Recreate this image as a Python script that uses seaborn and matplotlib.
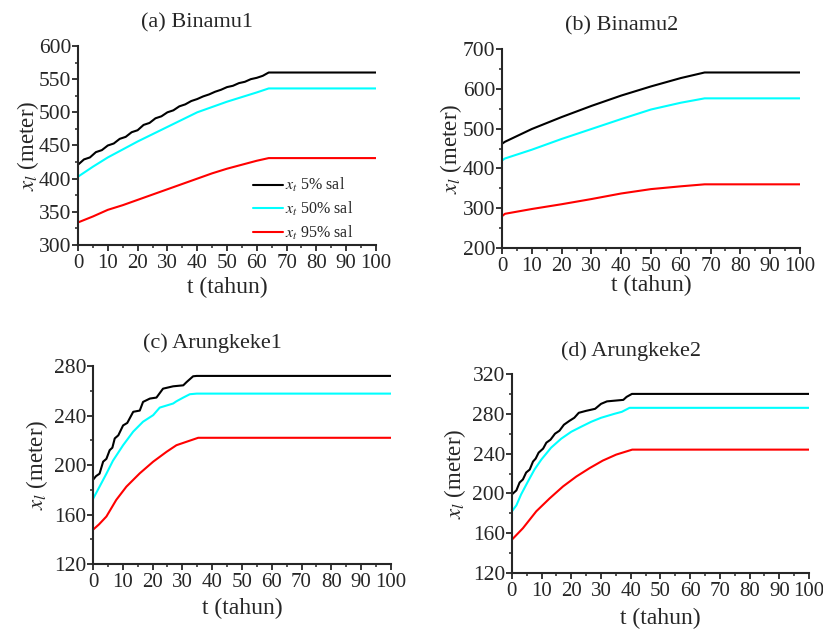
import pandas as pd
import seaborn as sns
import matplotlib.pyplot as plt
from matplotlib.ticker import MultipleLocator

sns.set_style('ticks')
plt.rcParams['font.family'] = ['Liberation Serif', 'DejaVu Serif']
plt.rcParams['mathtext.fontset'] = 'stix'

series_names = ['5% sal', '50% sal', '95% sal']
series_colors = ['#000000', '#00FFFF', '#FF0000']

# (a) Binamu1
a_t_5 = [0, 2, 4, 6, 8, 10, 12, 14, 16, 18, 20, 22, 24, 26, 28, 30, 32, 34, 36, 38,
         40, 42, 44, 46, 48, 50, 52, 54, 56, 58, 60, 62, 64, 100]
a_x_5 = [421, 429, 432, 440, 443, 450, 453, 460, 463, 470, 473, 481, 484, 491, 494, 500, 503, 509, 512, 517,
         520, 524, 527, 531, 534, 538, 540, 544, 546, 550, 552, 555, 560, 560]
a_t_50 = [0, 5, 10, 15, 20, 25, 30, 35, 40, 45, 50, 55, 60, 64, 100]
a_x_50 = [403, 418, 432, 444, 456, 467, 478, 489, 500, 508, 516, 523, 530, 536, 536]
a_t_95 = [0, 5, 10, 15, 20, 25, 30, 35, 40, 45, 50, 55, 60, 64, 100]
a_x_95 = [334, 343, 353, 360, 368, 376, 384, 392, 400, 408, 415, 421, 427, 431, 431]

# (b) Binamu2
b_t_5 = [0, 1, 10, 20, 30, 40, 50, 60, 68, 100]
b_x_5 = [462, 467, 499, 529, 557, 583, 606, 627, 641, 641]
b_t_50 = [0, 1, 10, 20, 30, 40, 50, 60, 68, 100]
b_x_50 = [420, 425, 447, 474, 499, 524, 548, 565, 576, 576]
b_t_95 = [0, 1, 10, 20, 30, 40, 50, 60, 68, 100]
b_x_95 = [280, 286, 298, 310, 323, 337, 348, 355, 360, 360]

# (c) Arungkeke1
c_t_5 = [0, 1, 2.2, 3.4, 4.5, 5.6, 6.5, 7.3, 8.5, 10.1, 11.5, 13.5, 15.7, 16.8, 19.1, 21.3,
         23.5, 26.9, 30.3, 31.4, 33.6, 34.8, 100]
c_x_5 = [188, 191, 193, 202.7, 205, 212, 214, 221.5, 224, 232, 234, 243, 244, 251, 253.7, 254.5,
         261.7, 263.6, 264.4, 267, 271.7, 272, 272]
c_t_50 = [0, 2.2, 4.5, 6.7, 10.1, 13.5, 16.8, 20.2, 22.4, 26.9, 28, 30.3, 32.5, 34.8, 100]
c_x_50 = [172.6, 182.5, 193, 203.5, 216, 227, 235, 240.3, 246.4, 249.7, 251.5, 254.5, 257.2, 257.7, 257.7]
c_t_95 = [0, 2, 4.5, 7.8, 11.2, 15.7, 20.2, 24.7, 28, 31.4, 35.3, 100]
c_x_95 = [147.7, 152, 158.4, 171.8, 182.5, 193.3, 202.7, 210.7, 216, 218.8, 222, 222]

# (d) Arungkeke2
d_t_5 = [0, 1.5, 2.6, 3.7, 4.8, 6, 7.1, 8, 9, 10.5, 11.6, 13, 14.5, 16, 17.5, 19.4, 21,
         22.5, 25, 28, 30, 32, 37.5, 38.6, 40.4, 100]
d_x_5 = [199, 203, 211, 214, 221, 224, 232, 235, 241, 245, 251, 254, 260, 263, 269, 273, 276,
         281, 283, 285, 290, 292.5, 294, 297, 300, 300]
d_t_50 = [0, 1.5, 3.1, 5.4, 7.6, 9.9, 13.2, 16.6, 20, 23.3, 26.7, 30, 34.5, 37, 39.6, 100]
d_x_50 = [182, 188, 199, 212, 224, 234, 246, 255, 262, 267, 272, 276, 280, 282, 286, 286]
d_t_95 = [0, 3.7, 8.2, 12.7, 17.2, 21.7, 26.2, 30.6, 35.1, 40.5, 100]
d_x_95 = [153.5, 165, 182, 195, 207, 217, 225.5, 233, 239, 244, 244]

titles = ['(a) Binamu1', '(b) Binamu2', '(c) Arungkeke1', '(d) Arungkeke2']
panels = [
    [(a_t_5, a_x_5), (a_t_50, a_x_50), (a_t_95, a_x_95)],
    [(b_t_5, b_x_5), (b_t_50, b_x_50), (b_t_95, b_x_95)],
    [(c_t_5, c_x_5), (c_t_50, c_x_50), (c_t_95, c_x_95)],
    [(d_t_5, d_x_5), (d_t_50, d_x_50), (d_t_95, d_x_95)],
]
ylims = [(300, 600), (200, 700), (120, 280), (120, 320)]
ysteps = [50, 100, 40, 40]

# posisi sumbu (fraksi figure) dan offset label
rects = [[0.0948, 0.6105, 0.362, 0.3164],
         [0.610, 0.6057, 0.362, 0.3164],
         [0.113, 0.1033, 0.362, 0.3148],
         [0.622, 0.0890, 0.361, 0.3164]]
ylab_x = [-0.168, -0.172, -0.188, -0.192]
xlab_y = [-0.215, -0.19, -0.225, -0.228]

fig = plt.figure(figsize=(8.23, 6.29), dpi=100)

for i in range(4):
    ax = fig.add_axes(rects[i])
    frames = []
    for name, (t, x) in zip(series_names, panels[i]):
        frames.append(pd.DataFrame({'t': t, 'x': x, 'seri': '$x_t$ ' + name}))
    df = pd.concat(frames, ignore_index=True)
    sns.lineplot(data=df, x='t', y='x', hue='seri', palette=series_colors,
                 linewidth=1.5, sort=False, ax=ax, legend=(i == 0))

    ax.set_xlim(0, 100)
    ax.set_ylim(*ylims[i])
    ax.xaxis.set_major_locator(MultipleLocator(10))
    ax.xaxis.set_minor_locator(MultipleLocator(5))
    ax.yaxis.set_major_locator(MultipleLocator(ysteps[i]))
    ax.yaxis.set_minor_locator(MultipleLocator(ysteps[i] / 2))
    ax.tick_params(which='major', direction='out', length=4, width=1.3)
    ax.tick_params(which='minor', direction='out', length=2.5, width=1.1)
    ax.tick_params(axis='x', pad=2.5, labelsize=15)
    ax.tick_params(axis='y', pad=1, labelsize=15.5)
    sns.despine(ax=ax)
    for s in ['left', 'bottom']:
        ax.spines[s].set_linewidth(1.5)

    ax.set_xlabel('t (tahun)', fontsize=17)
    ax.set_ylabel('$x_l$ (meter)', fontsize=16.5)
    ax.xaxis.set_label_coords(0.5, xlab_y[i])
    ax.xaxis.label.set_va('center')
    ax.yaxis.set_label_coords(ylab_x[i], 0.5)
    ax.yaxis.label.set_va('center')
    ax.text(0.40, 1.115, titles[i], transform=ax.transAxes, ha='center', va='center', fontsize=16)

    if i == 0:
        ax.legend(loc='upper left', bbox_to_anchor=(0.587, 0.345), frameon=False, fontsize=11.5,
                  handlelength=1.9, handletextpad=0.1, labelspacing=0.35,
                  borderpad=0, borderaxespad=0, title=None)

fig.savefig('out.png', dpi=100)
